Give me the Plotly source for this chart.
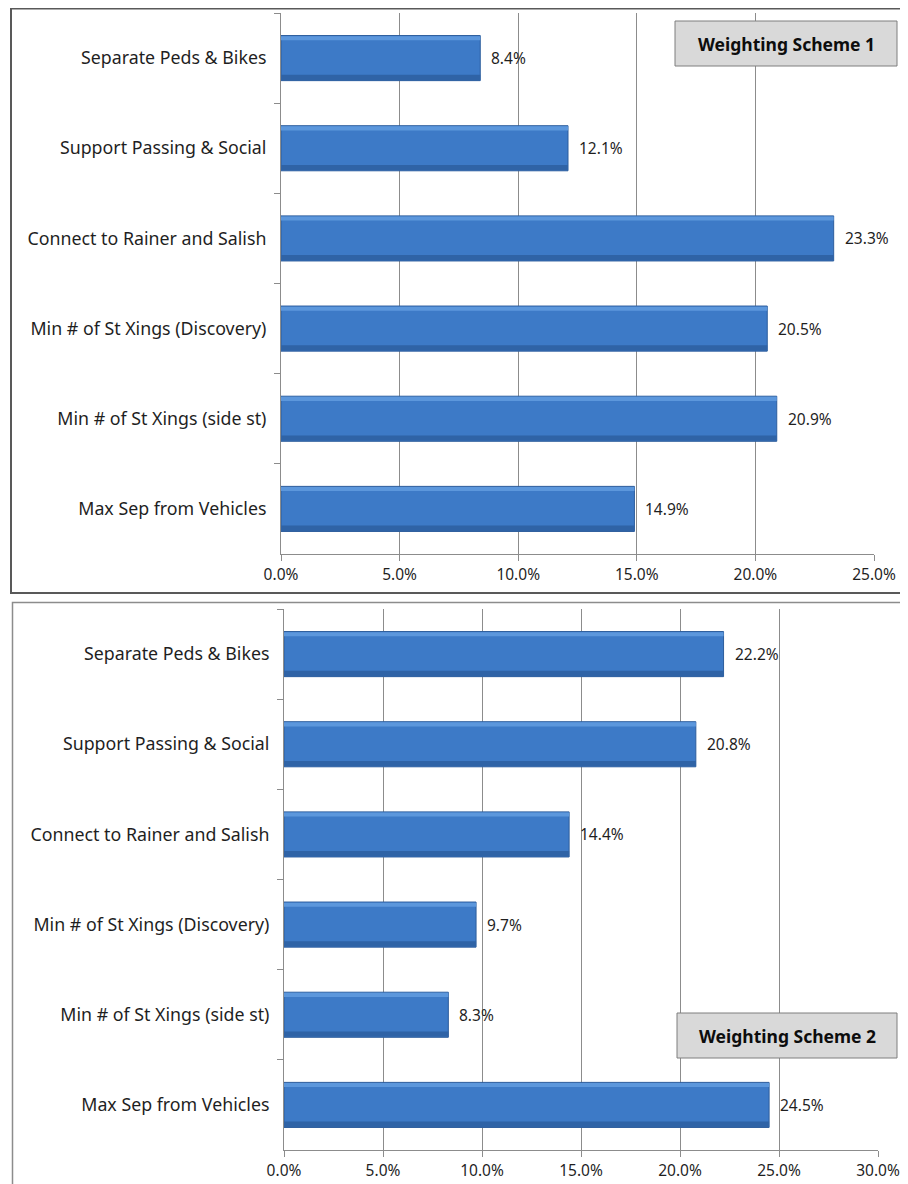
import plotly.graph_objects as go

# The page shows the figure with an 8px body margin, so the figure is 8px
# smaller and every reference pixel position is shifted by that offset.
OFF = 8
W, H = 908 - OFF, 1184 - OFF

categories = [
    "Separate Peds & Bikes",
    "Support Passing & Social",
    "Connect to Rainer and Salish",
    "Min # of St Xings (Discovery)",
    "Min # of St Xings (side st)",
    "Max Sep from Vehicles",
]
scheme1_values = [0.084, 0.121, 0.233, 0.205, 0.209, 0.149]
scheme2_values = [0.222, 0.208, 0.144, 0.097, 0.083, 0.245]
scheme1_title = "Weighting Scheme 1"
scheme2_title = "Weighting Scheme 2"
scheme1_max = 0.25
scheme2_max = 0.30

FONT = "Noto Sans"
TXT = "#1F1F1F"
BAR = "#3D7AC7"
BAR_TOP = "#5C97DC"
BAR_BOTTOM = "#2F63A6"
BAR_EDGE = "#2D5D9C"
GRID = "#8C8C8C"


def px(x):
    return (x - OFF) / W


def py(y):
    return 1 - (y - OFF) / H


fig = go.Figure()

for xa, ya, vals in (("x", "y", scheme1_values), ("x2", "y2", scheme2_values)):
    # main bar body
    fig.add_trace(go.Bar(
        x=vals, y=categories, orientation="h",
        marker=dict(color=BAR, line=dict(color=BAR_EDGE, width=1)),
        width=0.5, xaxis=xa, yaxis=ya, showlegend=False, hoverinfo="skip",
    ))
    # light top highlight of the bevel
    fig.add_trace(go.Bar(
        x=vals, y=categories, orientation="h",
        marker=dict(color=BAR_TOP, line=dict(width=0)),
        width=0.045, offset=-0.243, xaxis=xa, yaxis=ya,
        showlegend=False, hoverinfo="skip",
    ))
    # darker lower band of the bevel
    fig.add_trace(go.Bar(
        x=vals, y=categories, orientation="h",
        marker=dict(color=BAR_BOTTOM, line=dict(width=0)),
        width=0.06, offset=0.185, xaxis=xa, yaxis=ya,
        showlegend=False, hoverinfo="skip",
    ))

annotations = []
for xa, ya, vals in (("x", "y", scheme1_values), ("x2", "y2", scheme2_values)):
    for c, v in zip(categories, vals):
        annotations.append(dict(
            x=v, y=c, xref=xa, yref=ya, text=f"{v*100:.1f}%",
            showarrow=False, xanchor="left", yanchor="middle", xshift=9,
            font=dict(family=FONT, size=15.5, color=TXT),
        ))

xcommon = dict(
    tickformat=".1%", dtick=0.05, tick0=0,
    showgrid=True, gridcolor=GRID, gridwidth=1,
    showline=True, linecolor=GRID, linewidth=1,
    ticks="outside", ticklen=6, tickcolor=GRID,
    zeroline=False, automargin=False,
    tickfont=dict(family=FONT, size=15.5, color=TXT),
    fixedrange=True,
)
ycommon = dict(
    type="category", categoryorder="array", categoryarray=categories,
    autorange="reversed",
    showgrid=False, showline=True, linecolor=GRID, linewidth=1,
    ticks="outside", ticklen=6, tickcolor=GRID, tickson="boundaries",
    ticklabelstandoff=10, automargin=False,
    tickfont=dict(family=FONT, size=17.8, color=TXT),
    fixedrange=True,
)

shapes = [
    # outer chart borders
    dict(type="rect", xref="paper", yref="paper",
         x0=px(11), x1=px(905), y0=py(593), y1=py(8.5),
         line=dict(color="#595959", width=2), fillcolor="rgba(0,0,0,0)", layer="above"),
    dict(type="rect", xref="paper", yref="paper",
         x0=px(12.5), x1=px(905), y0=py(1195), y1=py(602.5),
         line=dict(color="#8C8C8C", width=1.5), fillcolor="rgba(0,0,0,0)", layer="above"),
    # title boxes
    dict(type="rect", xref="paper", yref="paper",
         x0=px(675), x1=px(897), y0=py(66), y1=py(21),
         line=dict(color="#7F7F7F", width=1), fillcolor="#D9D9D9", layer="above"),
    dict(type="rect", xref="paper", yref="paper",
         x0=px(677), x1=px(897), y0=py(1058), y1=py(1013),
         line=dict(color="#7F7F7F", width=1), fillcolor="#D9D9D9", layer="above"),
]

annotations += [
    dict(x=px(786), y=py(43.5), xref="paper", yref="paper", text=f"<b>{scheme1_title}</b>",
         xanchor="center", yanchor="middle",
         showarrow=False, font=dict(family=FONT, size=17.5, color="#0D0D0D")),
    dict(x=px(787), y=py(1035.5), xref="paper", yref="paper", text=f"<b>{scheme2_title}</b>",
         xanchor="center", yanchor="middle",
         showarrow=False, font=dict(family=FONT, size=17.5, color="#0D0D0D")),
]

fig.update_layout(
    width=W, height=H,
    margin=dict(l=0, r=0, t=0, b=0, autoexpand=False),
    paper_bgcolor="white", plot_bgcolor="white",
    xaxis=dict(xcommon, range=[0, scheme1_max], domain=[px(281), px(874)], anchor="y"),
    yaxis=dict(ycommon, domain=[py(554), py(13)], anchor="x"),
    xaxis2=dict(xcommon, range=[0, scheme2_max], domain=[px(284), px(878)], anchor="y2"),
    yaxis2=dict(ycommon, domain=[py(1150), py(609)], anchor="x2"),
    shapes=shapes,
    annotations=annotations,
    barmode="overlay",
)

fig.write_html("out.html")
